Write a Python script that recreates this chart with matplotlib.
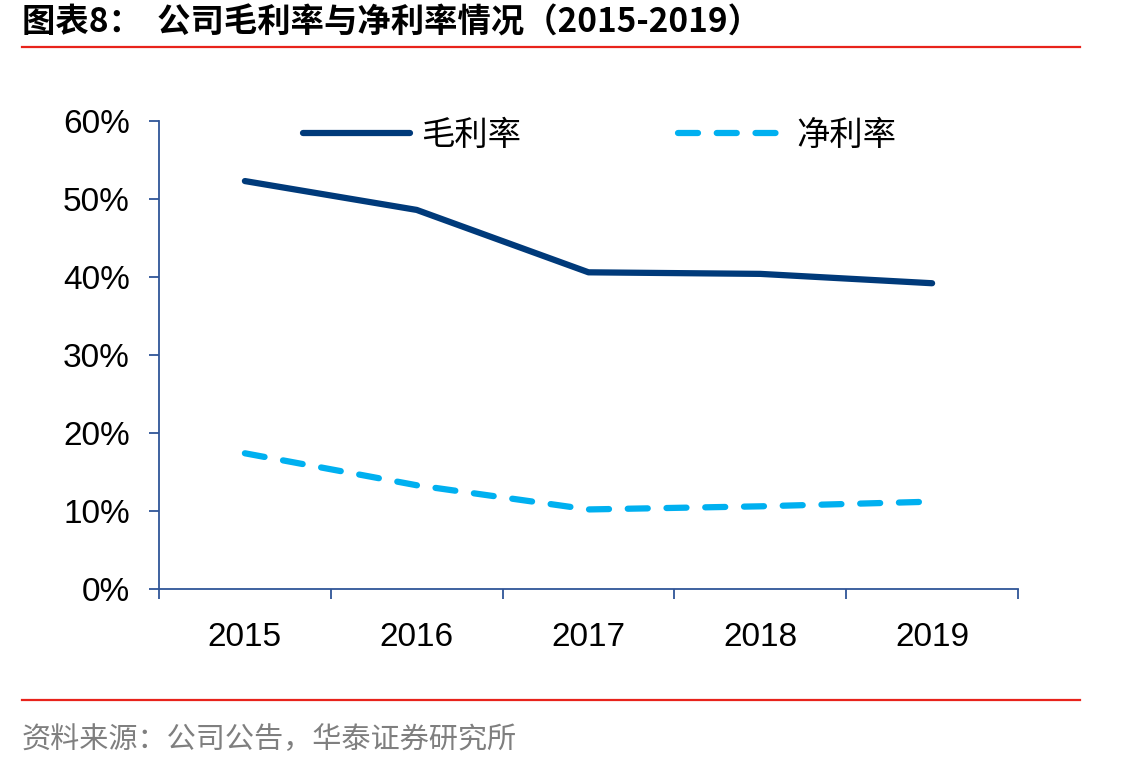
import matplotlib.pyplot as plt
from matplotlib.lines import Line2D

years = ['2015', '2016', '2017', '2018', '2019']
gross_margin = [0.523, 0.486, 0.406, 0.404, 0.392]
net_margin = [0.174, 0.133, 0.102, 0.106, 0.112]
yticks = [0, 0.1, 0.2, 0.3, 0.4, 0.5, 0.6]
ytick_labels = ['0%', '10%', '20%', '30%', '40%', '50%', '60%']

cjk = ['Noto Sans CJK SC', 'DejaVu Sans']
navy = '#003A7A'
sky = '#00B0F0'
axis_col = '#2F5597'
red = '#E8231B'

fig = plt.figure(figsize=(11.37, 7.68), dpi=100)
fig.patch.set_facecolor('white')

ax = fig.add_axes([159 / 1137, 1 - 589 / 768, (1018 - 159) / 1137, (589 - 121) / 768])
x = list(range(len(years)))
ax.plot(x, gross_margin, color=navy, lw=4.5, solid_capstyle='round', label='毛利率')
ax.plot(x, net_margin, color=sky, lw=4.5, dashes=(3.2, 3.0), dash_capstyle='round', label='净利率')

ax.set_xlim(-0.5, len(years) - 0.5)
ax.set_ylim(0, 0.6)
ax.set_yticks(yticks)
ax.set_yticklabels(ytick_labels)
ax.set_xticks(x)
ax.set_xticklabels(years)
# category boundary ticks on the x axis
ax.set_xticks([i - 0.5 for i in range(len(years) + 1)], minor=True)
ax.tick_params(axis='x', which='major', length=0, pad=24)
ax.tick_params(axis='x', which='minor', length=7, width=1.3, color=axis_col, direction='out')
ax.tick_params(axis='y', length=7, width=1.3, color=axis_col, direction='out', pad=14)
for lab in ax.get_xticklabels() + ax.get_yticklabels():
    lab.set_fontfamily('Liberation Sans')
    lab.set_fontsize(24)
    lab.set_color('black')

for s in ['top', 'right']:
    ax.spines[s].set_visible(False)
for s in ['left', 'bottom']:
    ax.spines[s].set_color(axis_col)
    ax.spines[s].set_linewidth(1.3)

leg = ax.legend(loc='upper left', bbox_to_anchor=(303 / 1137, 1 - 118 / 768),
                bbox_transform=fig.transFigure, ncol=2, frameon=False,
                handlelength=3.2, handletextpad=0.35, columnspacing=4.7,
                borderpad=0, borderaxespad=0,
                prop={'family': cjk, 'size': 24})

fig.text(22 / 1137, 1 - 23 / 768, '图表8：  公司毛利率与净利率情况（2015-2019）',
         family=cjk, fontsize=24, fontweight='bold', va='center', ha='left')
fig.add_artist(Line2D([22 / 1137, 1080 / 1137], [1 - 47 / 768, 1 - 47 / 768],
                      color=red, lw=1.6, transform=fig.transFigure))
fig.add_artist(Line2D([22 / 1137, 1080 / 1137], [1 - 700 / 768, 1 - 700 / 768],
                      color=red, lw=1.6, transform=fig.transFigure))
fig.text(22 / 1137, 1 - 740 / 768, '资料来源：公司公告，华泰证券研究所',
         family=cjk, fontsize=21, color='#7F7F7F', va='center', ha='left')

fig.savefig('out.png', dpi=100)
